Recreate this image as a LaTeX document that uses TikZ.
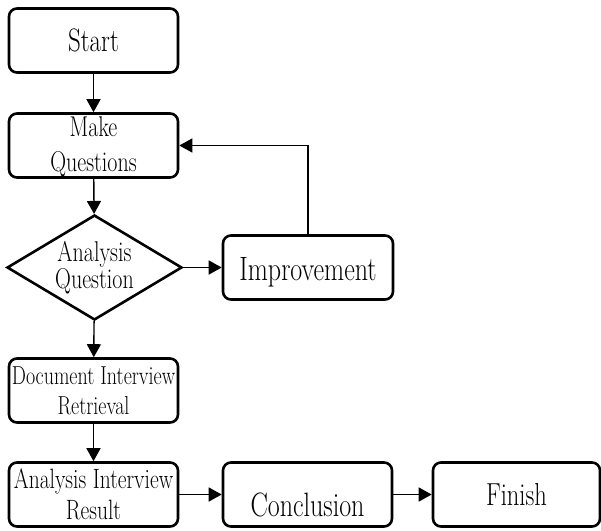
\documentclass[tikz,border=0pt]{standalone}
\usepackage{graphicx}
\usetikzlibrary{shapes.geometric,arrows.meta}
\newcommand{\tall}[1]{\scalebox{1}[1.3]{#1}}

\begin{document}
\begin{tikzpicture}[x=1pt,y=-1pt,
	box/.style={draw,line width=2.6pt,rounded corners=8pt,minimum width=169pt,minimum height=64pt,inner sep=0pt,align=center,execute at begin node={\lineskiplimit=-40pt}},
	dec/.style={draw,diamond,line width=2.6pt,aspect=1.667,minimum width=175pt,minimum height=105pt,inner sep=0pt,align=center,execute at begin node={\lineskiplimit=-40pt}},
	arr/.style={line width=1.4pt,-{Triangle[length=13pt,width=14pt]}}]
			\useasboundingbox (0,0) rectangle (601,530);
			% 左列
			\node[box,font=\fontsize{25}{30}\selectfont] (start) at (93.5,40.5) {\tall{Start}};
			\node[box,font=\fontsize{22}{35}\selectfont] (make) at (93.5,145.5) {\rule{0pt}{23pt}\tall{Make}\\\tall{Questions}};
			\node[dec,font=\fontsize{22}{27}\selectfont] (ana) at (94.5,267.5) {\tall{Analysis}\\\tall{Question}};
			\node[box,font=\fontsize{20}{30}\selectfont] (doc) at (93.5,390.5) {\tall{Document Interview}\\\tall{Retrieval}};
			\node[box,font=\fontsize{21.5}{31}\selectfont] (res) at (93.5,494.5) {\tall{Analysis Interview}\\\tall{Result}};
			% 右边
			\node[box,minimum width=170pt,font=\fontsize{26}{30}\selectfont] (impr) at (308,267.5) {\raisebox{-5pt}[\height][\depth]{\tall{Improvement}}};
			\node[box,font=\fontsize{26}{30}\selectfont] (concl) at (307.5,494.5) {\raisebox{-10pt}[\height][\depth]{\tall{Conclusion}}};
			\node[box,minimum width=167pt,font=\fontsize{24.5}{30}\selectfont] (fin) at (516.5,494.5) {\tall{Finish}};
			% 箭头
			\draw[arr] (start) -- (make);
			\draw[arr] (make) -- (ana);
			\draw[arr] (ana) -- (impr);
			\draw[arr] (impr.north) |- (make.east);
			\draw[arr] (ana) -- (doc);
			\draw[arr] (doc) -- (res);
			\draw[arr] (res) -- (concl);
			\draw[arr] (concl) -- (fin);
		\end{tikzpicture}
\end{document}
